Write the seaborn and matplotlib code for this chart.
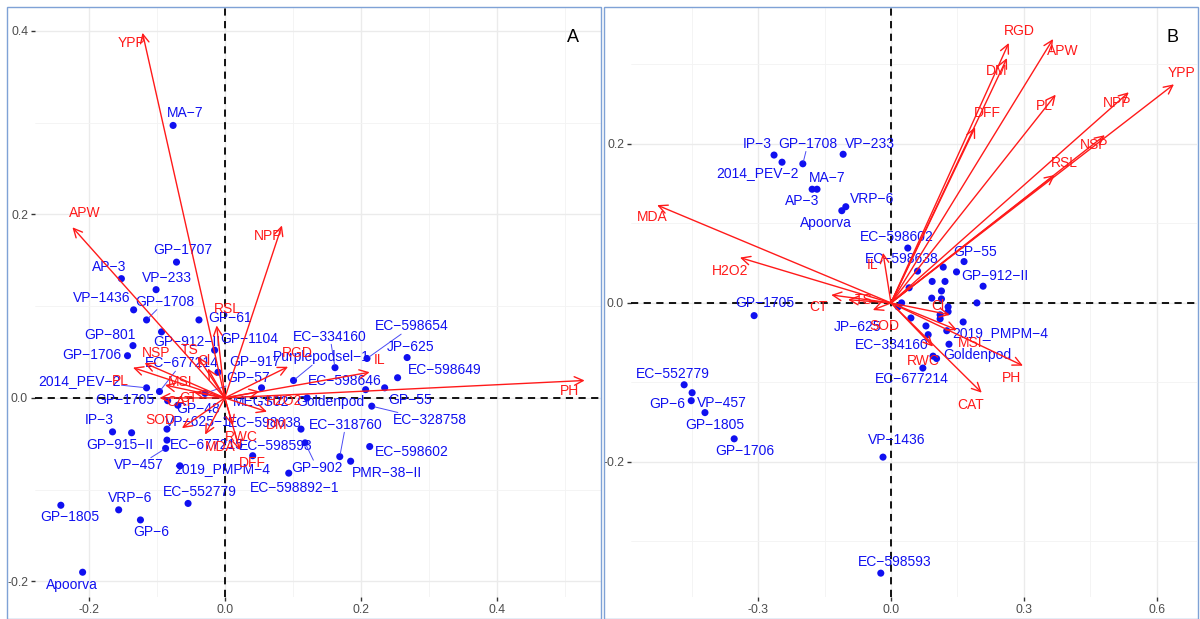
import matplotlib
matplotlib.use("Agg")
import matplotlib.pyplot as plt
import matplotlib.ticker as mticker
from matplotlib.patches import Rectangle
import seaborn as sns
import pandas as pd

sns.set_theme(style="white")
plt.rcParams["font.family"] = ["Liberation Sans", "DejaVu Sans"]

# ---------------- Panel A : genotype scores (Dim1, Dim2) ----------------
a_genotypes = [
    "MA-7", "GP-1707", "AP-3", "VP-233", "VP-1436", "GP-1708", "GP-61", "GP-912-II",
    "GP-801", "GP-1706", "EC-677214", "2014_PEV-2", "GP-1705", "IP-3", "GP-915-II",
    "VP-625-1", "EC-677215", "VP-457", "2019_PMPM-4", "EC-552779", "VRP-6", "GP-1805",
    "GP-6", "Apoorva", "GP-1104", "GP-917", "GP-57", "GP-48", "EC-334160",
    "Purplepodsel-1", "EC-598654", "JP-625", "EC-598649", "EC-598646", "GP-55",
    "EC-328758", "Goldenpod", "MEGS02", "EC-598638", "EC-598593", "EC-318760",
    "PMR-38-II", "EC-598602", "EC-598892-1", "GP-902",
]
a_dim1 = [
    -0.076, -0.071, -0.152, -0.101, -0.134, -0.115, -0.038, -0.093,
    -0.135, -0.143, -0.096, -0.115, -0.084, -0.165, -0.137,
    -0.085, -0.085, -0.087, -0.066, -0.054, -0.156, -0.241,
    -0.124, -0.209, -0.015, -0.010, -0.029, -0.069, 0.162,
    0.101, 0.209, 0.268, 0.254, 0.207, 0.235,
    0.216, 0.121, 0.054, 0.112, 0.041, 0.169,
    0.185, 0.213, 0.094, 0.118,
]
a_dim2 = [
    0.297, 0.148, 0.130, 0.118, 0.096, 0.085, 0.085, 0.072,
    0.057, 0.046, 0.007, 0.011, -0.003, -0.037, -0.038,
    -0.034, -0.046, -0.055, -0.074, -0.115, -0.122, -0.117,
    -0.133, -0.190, 0.052, 0.028, 0.005, -0.008, 0.033,
    0.019, 0.043, 0.044, 0.022, 0.009, 0.011,
    -0.009, 0.000, 0.011, -0.034, -0.063, -0.064,
    -0.069, -0.053, -0.082, -0.049,
]

# ---------------- Panel A : variable loadings ----------------
a_variables = ["YPP", "APW", "NPP", "RSL", "NSP", "PL", "TS", "MSI", "CAT", "SOD",
               "MDA", "DFF", "DM", "H2O2", "RGD", "IL", "PH", "Cl", "CT", "RWC"]
a_load1 = [-0.121, -0.224, 0.084, -0.012, -0.118, -0.135, -0.040, -0.088, -0.096, -0.063,
           -0.029, 0.022, 0.062, 0.051, 0.093, 0.213, 0.529, -0.025, -0.045, 0.012]
a_load2 = [0.398, 0.186, 0.188, 0.079, 0.038, 0.033, 0.045, 0.014, 0.000, -0.033,
           -0.040, -0.057, -0.015, 0.007, 0.034, 0.028, 0.019, 0.032, 0.006, -0.030]

# ---------------- Panel B : genotype scores ----------------
b_genotypes = [
    "IP-3", "2014_PEV-2", "GP-1708", "VP-233", "MA-7", "AP-3", "VRP-6", "Apoorva",
    "EC-598602", "EC-598638", "GP-55", "GP-912-II", "GP-1705", "JP-625", "EC-334160",
    "2019_PMPM-4", "Goldenpod", "EC-677214", "EC-552779", "VP-457", "GP-6", "GP-1805",
    "GP-1706", "VP-1436", "EC-598593",
    "GP-1707", "GP-61", "GP-801", "EC-677215", "VP-625-1", "GP-915-II", "GP-1104",
    "GP-917", "GP-57", "GP-48", "Purplepodsel-1", "EC-598654", "EC-598649",
    "EC-598646", "EC-328758", "MEGS02", "EC-318760", "PMR-38-II", "EC-598892-1",
]
b_dim1 = [
    -0.264, -0.246, -0.199, -0.108, -0.167, -0.178, -0.102, -0.111,
    0.038, 0.041, 0.165, 0.208, -0.309, 0.016, 0.084,
    0.163, 0.131, 0.072, -0.467, -0.449, -0.451, -0.420,
    -0.354, -0.018, -0.023,
    0.118, 0.148, 0.093, 0.122, 0.114, 0.092, 0.114,
    0.024, 0.194, 0.129, 0.129, 0.111, 0.111,
    0.045, 0.079, 0.126, 0.103, 0.095, 0.060,
]
b_dim2 = [
    0.186, 0.177, 0.175, 0.187, 0.143, 0.143, 0.121, 0.116,
    0.069, 0.019, 0.052, 0.021, -0.016, -0.005, -0.040,
    -0.024, -0.052, -0.082, -0.103, -0.113, -0.123, -0.138,
    -0.171, -0.194, -0.340,
    0.045, 0.039, 0.027, 0.027, 0.015, 0.006, 0.005,
    0.000, 0.000, -0.005, -0.011, -0.015, -0.020,
    -0.019, -0.029, -0.035, -0.070, -0.067, 0.040,
]
b_shown = set(b_genotypes[:25])

# ---------------- Panel B : variable loadings ----------------
b_variables = ["RGD", "DM", "DFF", "APW", "PL", "NPP", "YPP", "NSP", "RSL", "MDA",
               "H2O2", "CT", "TS", "IL", "SOD", "Cl", "MSI", "RWC", "CAT", "PH"]
b_load1 = [0.266, 0.262, 0.190, 0.366, 0.372, 0.537, 0.639, 0.483, 0.370, -0.528,
           -0.341, -0.135, -0.097, -0.018, -0.041, 0.133, 0.149, 0.095, 0.205, 0.298]
b_load2 = [0.327, 0.308, 0.221, 0.332, 0.262, 0.265, 0.275, 0.211, 0.161, 0.123,
           0.057, 0.010, 0.004, 0.063, -0.009, -0.015, -0.034, -0.055, -0.113, -0.079]

# ---------------- label placement (pixel offsets, flag = leader line) ----------------
a_geno_offsets = {
    "MA-7": (12, 12, 0), "GP-1707": (6, 12, 0), "AP-3": (-12, 12, 0), "VP-233": (11, 12, 0),
    "VP-1436": (-32, 12, 0), "GP-1708": (18, 18, 1), "GP-61": (31, 2, 0),
    "GP-912-II": (25, -10, 0), "GP-801": (-23, 11, 0), "GP-1706": (-36, 1, 0),
    "EC-677214": (22, 28, 1), "2014_PEV-2": (-67, 7, 1), "GP-1705": (-43, 1, 0),
    "IP-3": (-13, 12, 0), "GP-915-II": (-12, -12, 0), "VP-625-1": (31, 7, 0),
    "EC-677215": (40, -5, 0), "VP-457": (-27, -17, 1), "2019_PMPM-4": (42, -3, 0),
    "EC-552779": (12, 11, 0), "VRP-6": (11, 12, 0), "GP-1805": (9, -12, 0),
    "GP-6": (11, -12, 0), "Apoorva": (-11, -13, 0), "GP-1104": (35, 11, 0),
    "GP-917": (37, 10, 0), "GP-57": (43, 15, 1), "GP-48": (20, -4, 0),
    "EC-334160": (-5, 31, 1), "Purplepodsel-1": (28, 23, 1), "EC-598654": (45, 32, 1),
    "JP-625": (3, 11, 0), "EC-598649": (47, 8, 0), "EC-598646": (-21, 9, 0),
    "GP-55": (25, -12, 0), "EC-328758": (58, -14, 1), "Goldenpod": (23, -4, 0),
    "MEGS02": (0, -14, 0), "EC-598638": (-36, 6, 0), "EC-598593": (23, 10, 0),
    "EC-318760": (6, 32, 1), "PMR-38-II": (36, -12, 0), "EC-598602": (42, -5, 0),
    "EC-598892-1": (6, -15, 0), "GP-902": (12, -25, 1),
}
a_var_offsets = {
    "YPP": (-11, -10), "APW": (12, 14), "NPP": (-14, -11), "RSL": (11, 16), "NSP": (12, 10),
    "PL": (-13, -13), "TS": (-8, 7), "MSI": (15, 3), "CAT": (20, -4), "SOD": (-22, 8),
    "MDA": (15, -12), "DFF": (13, -13), "DM": (10, -13), "H2O2": (25, -10), "RGD": (9, 14),
    "IL": (10, 12), "PH": (-15, -11), "Cl": (-4, 8), "CT": (-6, -6), "RWC": (8, -12),
}
b_geno_offsets = {
    "IP-3": (-17, 11, 0), "2014_PEV-2": (-25, -11, 0), "GP-1708": (5, 20, 1),
    "VP-233": (27, 10, 0), "MA-7": (10, 11, 0), "AP-3": (-10, -12, 0), "VRP-6": (26, 8, 0),
    "Apoorva": (-16, -12, 0), "EC-598602": (-11, 11, 0), "EC-598638": (-7, 29, 0),
    "GP-55": (11, 10, 0), "GP-912-II": (12, 10, 0), "GP-1705": (11, 13, 0),
    "JP-625": (-40, -20, 0), "EC-334160": (-36, -10, 0), "2019_PMPM-4": (37, -11, 0),
    "Goldenpod": (28, -11, 0), "EC-677214": (-11, -11, 0), "EC-552779": (-11, 11, 0),
    "VP-457": (30, -10, 0), "GP-6": (-24, -3, 0), "GP-1805": (10, -12, 0),
    "GP-1706": (11, -12, 0), "VP-1436": (14, 17, 0), "EC-598593": (14, 11, 0),
}
b_var_offsets = {
    "RGD": (11, 12), "DM": (-10, -13), "DFF": (12, 14), "APW": (10, -12), "PL": (-11, -11),
    "NPP": (-12, -11), "YPP": (8, 11), "NSP": (-11, -10), "RSL": (10, 12), "MDA": (-5, -12),
    "H2O2": (-10, -13), "CT": (-13, -12), "TS": (16, 0), "IL": (-10, -12), "SOD": (12, -16),
    "Cl": (-12, 9), "MSI": (13, -13), "RWC": (-10, -14), "CAT": (-11, -12), "PH": (-11, -12),
}

BLUE = "#1010F0"
RED = "#FF1A1A"
FS = 10


def pretty(s):
    return s.replace("-", "\u2212")


def draw_biplot(ax, genos, dim1, dim2, shown, geno_off, variables, l1, l2, var_off,
                xlim, ylim, xmajor, ymajor):
    ax.set_xlim(*xlim)
    ax.set_ylim(*ylim)
    ax.xaxis.set_major_locator(mticker.MultipleLocator(xmajor))
    ax.xaxis.set_minor_locator(mticker.MultipleLocator(xmajor / 2))
    ax.yaxis.set_major_locator(mticker.MultipleLocator(ymajor))
    ax.yaxis.set_minor_locator(mticker.MultipleLocator(ymajor / 2))
    ax.xaxis.set_major_formatter(mticker.FormatStrFormatter("%.1f"))
    ax.yaxis.set_major_formatter(mticker.FormatStrFormatter("%.1f"))
    ax.grid(which="major", color="#EBEBEB", lw=1.0)
    ax.grid(which="minor", color="#F3F3F3", lw=0.6)
    ax.set_axisbelow(True)
    for sp in ax.spines.values():
        sp.set_visible(False)
    ax.tick_params(which="major", length=3, width=1.0, color="#333333",
                   labelcolor="#4D4D4D", labelsize=8.8, pad=2, bottom=True, left=True)
    ax.tick_params(which="minor", length=0)

    ax.axhline(0, color="black", ls=(0, (4, 3)), lw=1.3, zorder=1.5)
    ax.axvline(0, color="black", ls=(0, (4, 3)), lw=1.3, zorder=1.5)

    df = pd.DataFrame({"genotype": genos, "Dim1": dim1, "Dim2": dim2})
    sns.scatterplot(data=df, x="Dim1", y="Dim2", ax=ax, color=BLUE, s=26,
                    edgecolor="none", legend=False, zorder=3)
    ax.set_xlabel("")
    ax.set_ylabel("")

    for g, x, y in zip(genos, dim1, dim2):
        if g not in shown:
            continue
        dx, dy, seg = geno_off[g]
        props = None
        if seg:
            props = dict(arrowstyle="-", color="#4A4AF5", lw=0.7, shrinkA=0, shrinkB=2)
        ax.annotate(pretty(g), xy=(x, y), xytext=(dx, dy), textcoords="offset pixels",
                    ha="center", va="center", color=BLUE, fontsize=FS, zorder=4,
                    bbox=dict(boxstyle="square,pad=0.05", fc="none", ec="none"),
                    arrowprops=props)

    for v, x, y in zip(variables, l1, l2):
        ax.annotate("", xy=(x, y), xytext=(0, 0),
                    arrowprops=dict(arrowstyle="->,head_length=0.45,head_width=0.22",
                                    color=RED, lw=1.0, shrinkA=0, shrinkB=0,
                                    mutation_scale=14), zorder=5)
        dx, dy = var_off[v]
        ax.annotate(v, xy=(x, y), xytext=(dx, dy), textcoords="offset pixels",
                    ha="center", va="center", color=RED, fontsize=FS, zorder=6)


W, H = 1200, 619
fig = plt.figure(figsize=(W / 100, H / 100), dpi=100)
fig.patch.set_facecolor("white")

axA = fig.add_axes([35 / W, 22 / H, (601 - 35) / W, (597 - 8) / H])
axB = fig.add_axes([631 / W, 22 / H, (1197 - 631) / W, (597 - 8) / H])

draw_biplot(axA, a_genotypes, a_dim1, a_dim2, set(a_genotypes), a_geno_offsets,
            a_variables, a_load1, a_load2, a_var_offsets,
            xlim=(-0.279, 0.553), ylim=(-0.217, 0.425), xmajor=0.2, ymajor=0.2)
draw_biplot(axB, b_genotypes, b_dim1, b_dim2, b_shown, b_geno_offsets,
            b_variables, b_load1, b_load2, b_var_offsets,
            xlim=(-0.587, 0.691), ylim=(-0.370, 0.371), xmajor=0.3, ymajor=0.2)

# panel frames and panel letters
for x0, x1 in [(7, 601), (604, 1198)]:
    fig.add_artist(Rectangle((x0 / W, 0), (x1 - x0) / W, (H - 7) / H,
                             transform=fig.transFigure, fill=False,
                             ec="#7FA2D6", lw=1.0, zorder=10))
fig.text(573 / W, 1 - 38 / H, "A", fontsize=13, ha="center", va="center", color="black")
fig.text(1173 / W, 1 - 38 / H, "B", fontsize=13, ha="center", va="center", color="black")

fig.savefig("out.png", dpi=100)
